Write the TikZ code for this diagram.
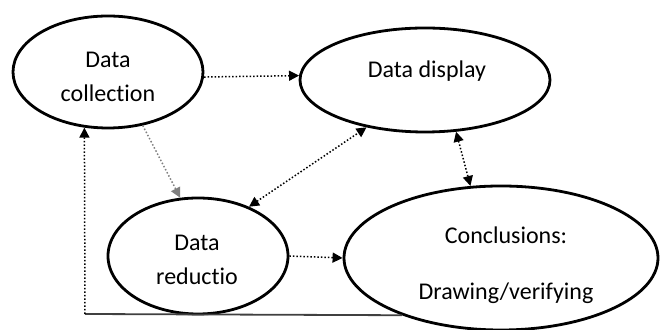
\documentclass[tikz,border=0pt]{standalone}
\usepackage{fontspec}
\setmainfont{Carlito}[Ligatures=NoCommon]
\usetikzlibrary{arrows.meta,shapes.geometric}

\tikzset{
  blob/.style={draw, ellipse, line width=1.4pt, inner sep=0pt},
  lbl/.style={align=center, font=\fontsize{12}{17}\selectfont},
  flow/.style={line width=0.75pt, densely dotted, -{Triangle[length=5pt,width=5pt]}},
  both/.style={flow, {Triangle[length=5pt,width=5pt]}-{Triangle[length=5pt,width=5pt]}}
}

\begin{document}
\begin{tikzpicture}[x=0.5pt, y=-0.5pt]
  \useasboundingbox (0,0) rectangle (660,330);
  % the four stages
  \node[blob, minimum width=95pt, minimum height=56pt] (coll) at (108,72) {};
  \node[blob, minimum width=125pt, minimum height=52pt] (disp) at (425,80) {};
  \node[blob, minimum width=90pt, minimum height=58pt] (red) at (198,256) {};
  \node[blob, minimum width=157pt, minimum height=72pt] (conc) at (501,258) {};
  \node[lbl] (collTxt) at (108,77) {Data\\collection};
  \node[lbl] (dispTxt) at (427,71) {Data display};
  \node[lbl] (redTxt) at (197,260) {Data\\reductio};
  \node[lbl] (concTxt) at (506,265) {Conclusions:\\[11pt]Drawing/verifying};
  % links
  \draw[flow] (coll.-3) -- (disp.178);
  \draw[flow, gray] (coll.-57) -- (red.107);
  \draw[both] (red.44) -- (disp.-141);
  \draw[both] (disp.-59) -- (conc.113);
  \draw[flow] (red.east) -- (conc.west);
  % loop back
  \coordinate (corner) at (85,314);
  \draw[line width=0.9pt, black!75] (conc.-150) -- (corner);
  \draw[flow] (corner) -- (coll.-113);
\end{tikzpicture}
\end{document}
